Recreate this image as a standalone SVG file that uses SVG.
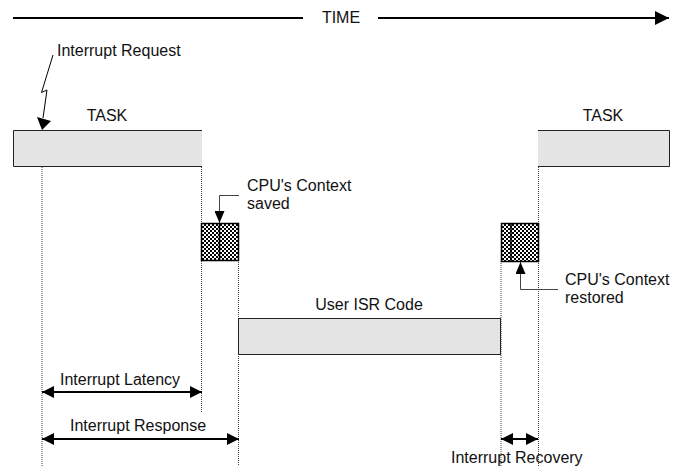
<svg xmlns="http://www.w3.org/2000/svg" width="675" height="467" viewBox="0 0 675 467">
  <style>
    text { font-family: "Liberation Sans", Arial, sans-serif; font-size: 16px; fill: #111; }
    .guide { stroke: #444; stroke-width: 1; stroke-dasharray: 1 1; fill: none; }
    .bar { fill: #e5e5e5; stroke: none; }
    .edge { stroke: #222; stroke-width: 1; fill: none; }
    .span { stroke: #000; stroke-width: 2; fill: none; marker-start: url(#head); marker-end: url(#head); }
    .callout { stroke: #444; stroke-width: 1; fill: none; }
    .hatch { fill: url(#checker); stroke: #000; stroke-width: 1.5; }
  </style>
  <defs>
    <pattern id="checker" width="4" height="4" patternUnits="userSpaceOnUse">
      <rect width="4" height="4" fill="#fff"/>
      <rect width="2" height="2" fill="#000"/>
      <rect x="2" y="2" width="2" height="2" fill="#000"/>
    </pattern>
    <marker id="head" viewBox="0 0 12 12" refX="12" refY="6" markerWidth="12" markerHeight="12" markerUnits="userSpaceOnUse" orient="auto-start-reverse">
      <path d="M0,0 L12,6 L0,12 z" fill="#000"/>
    </marker>
    <marker id="small" viewBox="0 0 12 10" refX="12" refY="5" markerWidth="12" markerHeight="10" markerUnits="userSpaceOnUse" orient="auto">
      <path d="M0,0 L12,5 L0,10 z" fill="#000"/>
    </marker>
    <marker id="time" viewBox="0 0 14 14" refX="14" refY="7" markerWidth="14" markerHeight="14" markerUnits="userSpaceOnUse" orient="auto">
      <path d="M0,0 L14,7 L0,14 z" fill="#000"/>
    </marker>
  </defs>

  <!-- time axis -->
  <g id="time-axis">
    <line x1="13" y1="18" x2="303" y2="18" stroke="#000" stroke-width="2"/>
    <text x="341" y="23" text-anchor="middle">TIME</text>
    <line x1="378" y1="18" x2="669" y2="18" stroke="#000" stroke-width="2" marker-end="url(#time)"/>
  </g>

  <!-- dotted guide lines -->
  <g id="guides">
    <line class="guide" x1="42" y1="167" x2="42" y2="466"/>
    <line class="guide" x1="201.5" y1="167" x2="201.5" y2="412"/>
    <line class="guide" x1="238.5" y1="260" x2="238.5" y2="466"/>
    <line class="guide" x1="501" y1="261" x2="501" y2="466"/>
    <line class="guide" x1="538.5" y1="167" x2="538.5" y2="466"/>
  </g>

  <!-- task before the interrupt -->
  <g id="task-1">
    <rect class="bar" x="13" y="130" width="189" height="37"/>
    <path class="edge" d="M202,130.5 H13.5 V166.5 H202"/>
    <text x="107" y="121" text-anchor="middle">TASK</text>
  </g>

  <!-- task resumed -->
  <g id="task-2">
    <rect class="bar" x="538" y="130" width="132" height="37"/>
    <path class="edge" d="M538,130.5 H669.5 V166.5 H538"/>
    <text x="603" y="121" text-anchor="middle">TASK</text>
  </g>

  <!-- interrupt request -->
  <g id="interrupt-request">
    <text x="57" y="56">Interrupt Request</text>
    <path d="M53,55 L41.5,92.5 L47,90 L43,118" stroke="#000" stroke-width="1" fill="none"/>
    <path d="M42,130 L37,117 L51,121 z" fill="#000"/>
  </g>

  <!-- context save -->
  <g id="context-save">
    <rect class="hatch" x="201.5" y="223.5" width="37" height="37"/>
    <line x1="219.5" y1="223" x2="219.5" y2="261" stroke="#000" stroke-width="1.5"/>
    <text x="247" y="191">CPU's Context</text>
    <text x="247" y="209">saved</text>
  </g>

  <!-- user ISR -->
  <g id="user-isr">
    <rect x="238.5" y="318.5" width="262" height="36" fill="#e5e5e5" stroke="#222" stroke-width="1"/>
    <text x="369" y="310" text-anchor="middle">User ISR Code</text>
  </g>

  <!-- context restore -->
  <g id="context-restore">
    <rect class="hatch" x="501.5" y="223.5" width="37" height="38"/>
    <line x1="511" y1="223" x2="511" y2="262" stroke="#000" stroke-width="1.5"/>
    <text x="565" y="285">CPU's Context</text>
    <text x="565" y="303">restored</text>
  </g>

  <!-- connectors -->
  <g id="connectors">
    <path class="callout" d="M239,195.5 H219.5 V223" marker-end="url(#small)"/>
    <path class="callout" d="M558,289.5 H520.5 V262" marker-end="url(#small)"/>
    <line class="span" x1="42" y1="392" x2="202" y2="392"/>
    <line class="span" x1="42" y1="439" x2="239" y2="439"/>
    <line class="span" x1="501" y1="439" x2="538" y2="439"/>
  </g>

  <!-- interval labels -->
  <g id="labels">
    <text x="60" y="385">Interrupt Latency</text>
    <text x="70" y="431">Interrupt Response</text>
    <text x="451" y="463">Interrupt Recovery</text>
  </g>
</svg>
